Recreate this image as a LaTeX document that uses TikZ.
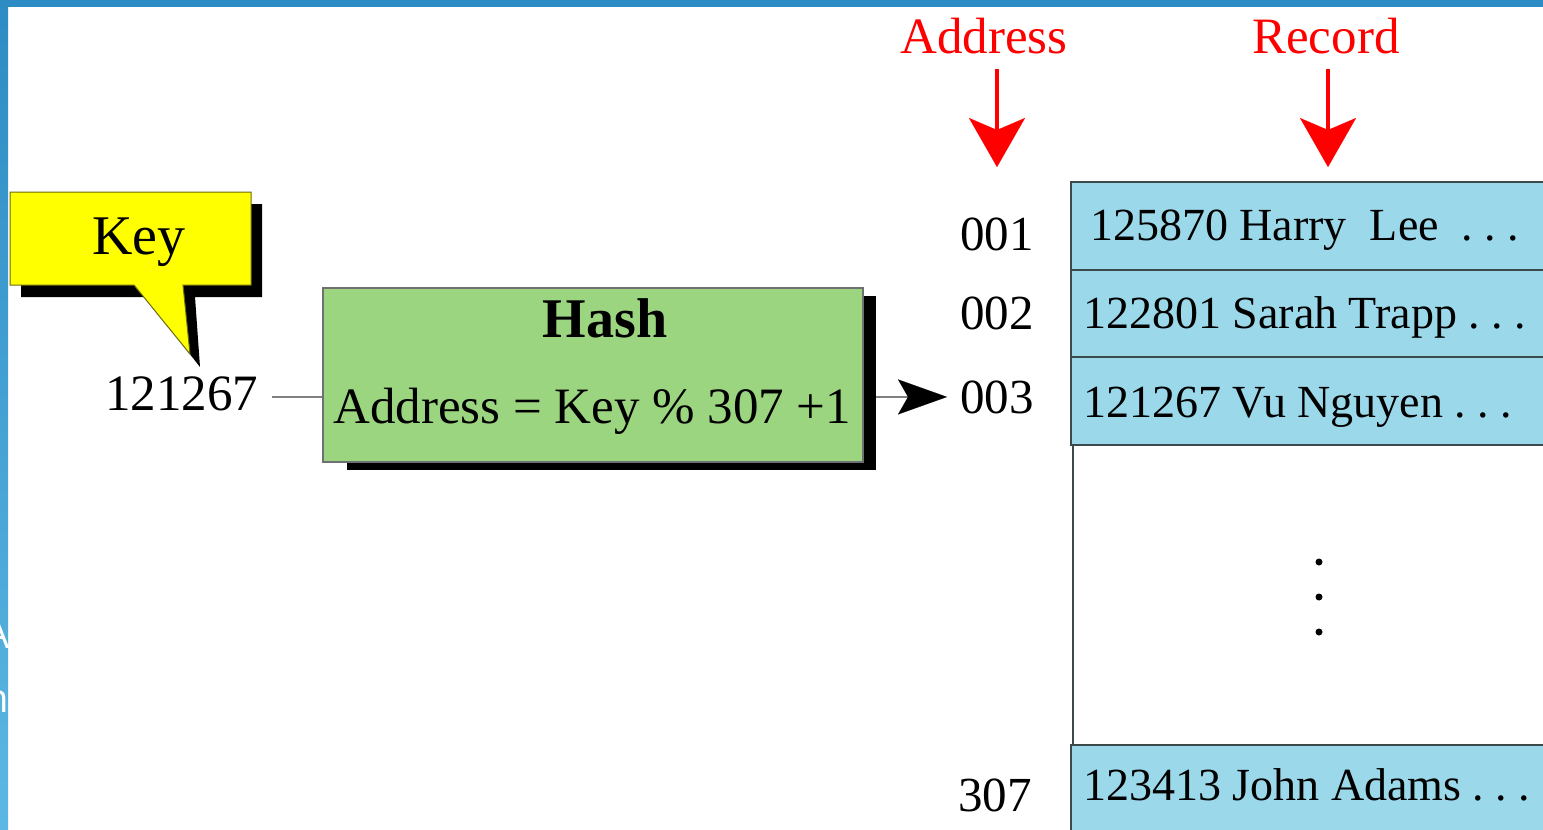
\documentclass[tikz,border=0pt]{standalone}
\usepackage{fontspec}
\setmainfont{Liberation Serif}
\newfontfamily\slidefont{Open Sans}
\usetikzlibrary{arrows.meta,calc}

\definecolor{framebluetop}{HTML}{2E8CC4}
\definecolor{framebluebot}{HTML}{5DB7E2}
\definecolor{keyyellow}{HTML}{FFFF00}
\definecolor{keyedge}{HTML}{6B6B10}
\definecolor{hashgreen}{HTML}{9BD580}
\definecolor{hashedge}{HTML}{707070}
\definecolor{cellblue}{HTML}{9AD8EA}
\definecolor{cellline}{HTML}{3C4A4E}
\definecolor{linkgray}{HTML}{808080}
\definecolor{labelred}{HTML}{FF0000}

\newcommand\fsz[1]{\fontsize{#1bp}{#1bp}\selectfont}

\tikzset{
  txt/.style={inner sep=0pt, anchor=base west},
  reclabel/.style={txt, font=\fsz{46}},
  addrlabel/.style={txt, font=\fsz{49}},
  headlabel/.style={txt, font=\fsz{51}, text=labelred},
  cell/.style={fill=cellblue, draw=cellline, line width=1.5bp},
  link/.style={draw=linkgray, line width=2bp},
  redarrow/.style={draw=labelred, line width=4bp,
    -{Stealth[length=49bp, width=56bp, inset=12bp, line width=0.1bp]},
    shorten <=15bp},
}

\begin{document}
\begin{tikzpicture}[x=1bp, y=-1bp]
\useasboundingbox (0,0) rectangle (1543,829);
\fill[white] (0,0) rectangle (1543,829);

% slide frame
\shade[top color=framebluetop, bottom color=framebluebot] (0,0) rectangle (8,829);
\fill[framebluetop] (0,0) rectangle (1543,7);
\node[anchor=base east, inner sep=0pt, text=white, font=\slidefont\fsz{40}] (fragA) at (10,648) {A};
\node[anchor=base east, inner sep=0pt, text=white, font=\slidefont\fsz{40}] (fragh) at (9,712) {h};

% key callout with its shadow
\fill[black] (21,204) -- (262,204) -- (262,297) -- (195,297) -- (200,367)
  -- (145,297) -- (21,297) -- cycle;
\filldraw[fill=keyyellow, draw=keyedge, line width=1bp]
  (10,192) -- (251,192) -- (251,285) -- (183,285) -- (190,354)
  -- (134,285) -- (10,285) -- cycle;
\node[inner sep=0pt, anchor=base, font=\fsz{56}] (keylabel) at (139,254) {Key};

\node[txt, font=\fsz{51}] (keynum) at (105,410) {121267};

% hash function box
\node[fill=black, inner sep=0pt, anchor=north west,
  minimum width=529bp, minimum height=174bp] (hashshadow) at (347,296) {};
\node[fill=hashgreen, draw=hashedge, line width=1.5bp, inner sep=0pt, anchor=north west,
  minimum width=540bp, minimum height=174bp] (hashbox) at (322,287) {};
\node[inner sep=0pt, anchor=base, font=\bfseries\fsz{56}] (hashtitle) at (605,337) {Hash};
\node[txt, font=\fsz{51}] (hashformula) at (333,423) {Address = Key \% 307 +1};

% addresses
\node[addrlabel] (addr1) at (960,250) {001};
\node[addrlabel] (addr2) at (960,329) {002};
\node[addrlabel] (addr3) at (960,413) {003};
\node[addrlabel] (addr307) at (958,811) {307};

% key to hash, hash to address
\coordinate (keyout) at ([xshift=14bp, yshift=-4bp]keynum.east);
\draw[link] (keyout) -- (keyout -| hashbox.west);
\draw[link, -{Stealth[length=49bp, width=35bp, inset=10bp, line width=0.1bp, black]},
  shorten >=13bp] (hashshadow.east |- addr3.west) -- (addr3.west);

% column headings
\node[headlabel] (addrhead) at (900,53) {Address};
\node[headlabel] (rechead) at (1252,53) {Record};
\coordinate (addrtip) at (997,167);
\coordinate (rectip) at (1328,167);
\draw[redarrow] (addrtip |- addrhead.south) -- (addrtip);
\draw[redarrow] (rectip |- rechead.south) -- (rectip);

% record table
\draw[cell] (1071,182) rectangle (1575,270);
\draw[cell] (1071,270) rectangle (1575,357);
\draw[cell] (1071,357) rectangle (1575,445);
\draw[cell] (1071,745) rectangle (1575,845);
\draw[draw=cellline, line width=1.5bp] (1073,445) -- (1073,745);

\node[reclabel] (rec1) at (1090,240) {125870 Harry\ \ Lee\ \ .\ .\ .};
\node[reclabel] (rec2) at (1083,328) {122801 Sarah Trapp .\ .\ .};
\node[reclabel] (rec3) at (1083,417) {121267 Vu Nguyen .\ .\ .};
\node[reclabel] (rec307) at (1083,800) {123413 John Adams .\ .\ .};

\fill (1319,562) circle[radius=3.5bp];
\fill (1319,597) circle[radius=3.5bp];
\fill (1319,632) circle[radius=3.5bp];
\end{tikzpicture}
\end{document}
